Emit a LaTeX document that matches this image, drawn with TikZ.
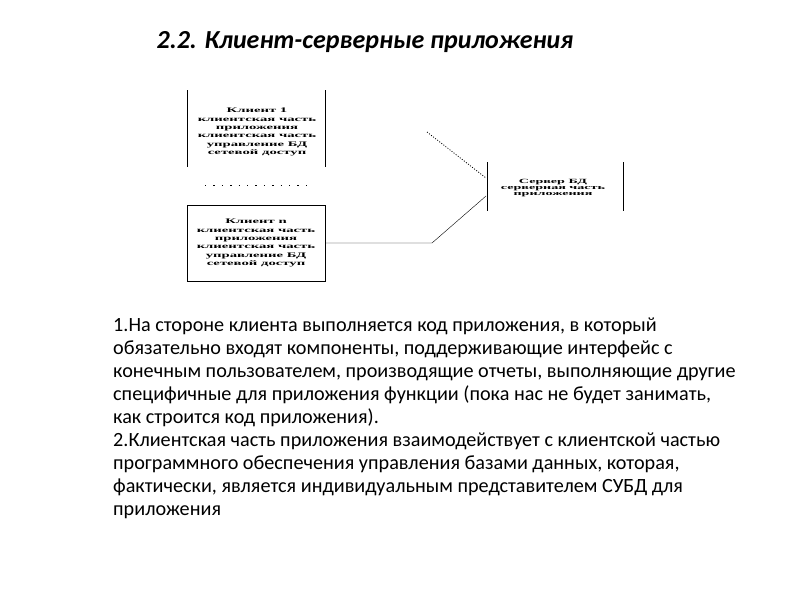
\documentclass[tikz,border=0pt]{standalone}
\usepackage{fontspec}
\setmainfont{Carlito}
\newfontfamily\diagfont{Liberation Serif}
\usepackage{graphicx}
\usepackage{tikz}

\newcommand{\boxlines}[2][2.1]{\scalebox{#1}[1]{\begin{tabular}{@{}c@{}}#2\end{tabular}}}

\begin{document}
\begin{tikzpicture}[x=1pt,y=-1pt]
\useasboundingbox (0,0) rectangle (794,595);
\par
\tikzstyle{smalltext}=[font=\diagfont\fontsize{7}{10}\selectfont\bfseries, inner sep=0pt]
\tikzstyle{dotline}=[line width=0.8pt, dash pattern=on 1pt off 1.6pt]
\node (title) at (365,42) {\fontsize{26}{29}\selectfont\bfseries\itshape 2.2. Клиент-серверные приложения} ;
\par
% client 1, only the side lines
\node[smalltext] (client1) at (257,132) {\renewcommand{\arraystretch}{0.83}\boxlines{Клиент 1\\клиентская часть\\приложения\\клиентская часть\\управление БД\\сетевой доступ}} ;
\draw (187,90)--(187,167) ;
\draw (325,90)--(325,167) ;
\coordinate (dotsa) at (205,185) ;
\coordinate (dotsb) at (306,185) ;
\draw[line width=1pt, dash pattern=on 1.3pt off 7.1pt] (dotsa)--(dotsb) ;
\par
% client n
\node[draw, thick, minimum width=138, minimum height=76] (clientn) at (256,243) {} ;
\node[smalltext] (clientntext) at (clientn) {\renewcommand{\arraystretch}{0.83}\boxlines{Клиент n\\клиентская часть\\приложения\\клиентская часть\\управление БД\\сетевой доступ}} ;
\par
% server
\node[smalltext, font=\diagfont\fontsize{6.4}{8.6}\selectfont\bfseries] (server) at (553,188) {\renewcommand{\arraystretch}{0.72}\boxlines[2.2]{Сервер БД\\серверная часть\\приложения}} ;
\draw[thick] (487,162)--(487,211) ;
\draw (623,162)--(623,211) ;
\coordinate (srvtop) at (486,178) ;
\coordinate (srvlow) at (486,196) ;
\coordinate (farup) at (427,132) ;
\coordinate (bend) at (432,243) ;
\draw[dotline] (farup)--(srvtop) ;
\draw (clientn.east)--(bend)--(srvlow) ;
\par
\node[anchor=north west, align=left, inner sep=0pt, font=\fontsize{20.2}{23}\selectfont] (body) at (113,318)
{1.На стороне клиента выполняется код приложения, в который\\
обязательно входят компоненты, поддерживающие интерфейс с\\
конечным пользователем, производящие отчеты, выполняющие другие\\
специфичные для приложения функции (пока нас не будет занимать,\\
как строится код приложения).\\
2.Клиентская часть приложения взаимодействует с клиентской частью\\
программного обеспечения управления базами данных, которая,\\
фактически, является индивидуальным представителем СУБД для\\
приложения} ;
\par
\end{tikzpicture}
\end{document}
